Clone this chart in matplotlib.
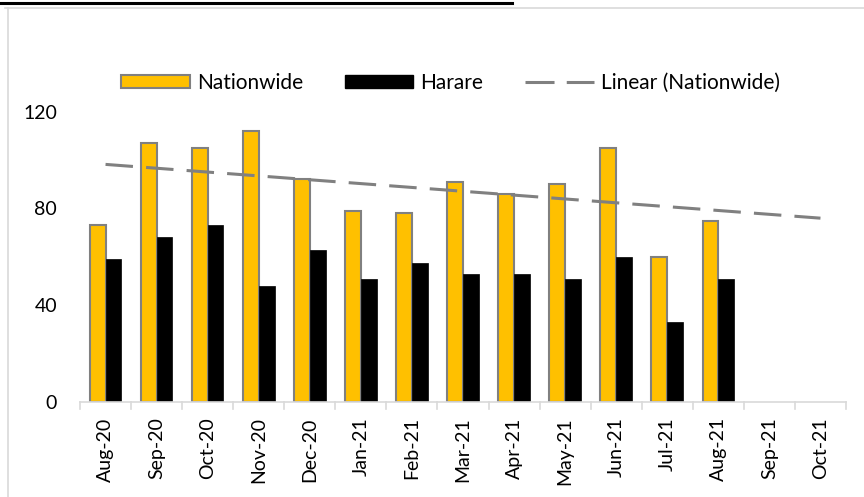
import numpy as np
import matplotlib
matplotlib.use("Agg")
import matplotlib.pyplot as plt
from matplotlib.lines import Line2D
from matplotlib.patches import Patch

plt.rcParams['font.family'] = ['Lato', 'DejaVu Sans']

months = ["Aug-20", "Sep-20", "Oct-20", "Nov-20", "Dec-20", "Jan-21", "Feb-21",
          "Mar-21", "Apr-21", "May-21", "Jun-21", "Jul-21", "Aug-21", "Sep-21", "Oct-21"]
nationwide = [73, 107, 105, 112, 92, 79, 78, 91, 86, 90, 105, 60, 75]
harare = [59, 68, 73, 48, 63, 51, 57.5, 53, 53, 51, 60, 33, 51]

fig = plt.figure(figsize=(8.64, 4.97), dpi=100)
ax = fig.add_axes([80/864, 1-402/497, (846-80)/864, (402-111.7)/497])

x_all = np.arange(len(months))
n = len(nationwide)
xd = np.arange(n)
w = 0.31
ax.bar(xd - w/2, nationwide, width=w, color="#FFC000", edgecolor="#808080",
       linewidth=1.5, zorder=2, label="Nationwide")
ax.bar(xd + w/2, harare, width=w, color="#000000", edgecolor="#000000",
       linewidth=0.5, zorder=2, label="Harare")

coef = np.polyfit(xd, nationwide, 1)
xt = np.array([0, len(months) - 1])
ax.plot(xt, np.polyval(coef, xt), color="#808080", linewidth=2.2,
        dashes=(9, 4.3), zorder=3, label="Linear (Nationwide)")

ax.set_xlim(-0.5, len(months) - 0.5)
ax.set_ylim(0, 120)
ax.set_yticks([0, 40, 80, 120])
ax.set_xticks(x_all)
ax.set_xticklabels(months, rotation=90, fontsize=14, color="#000000")
ax.tick_params(axis='x', length=0, pad=11)
ax.tick_params(axis='y', length=0, pad=16.5, labelsize=14, labelcolor="#000000")
for s in ["top", "right", "left"]:
    ax.spines[s].set_visible(False)
ax.spines["bottom"].set_color("#d9d9d9")
ax.spines["bottom"].set_linewidth(1.2)
# category boundary ticks
for b in np.arange(len(months) + 1) - 0.5:
    ax.plot([b, b], [0, -3], color="#d9d9d9", linewidth=1.2, clip_on=False, zorder=1)

handles = [Patch(facecolor="#FFC000", edgecolor="#808080", linewidth=1.5),
           Patch(facecolor="#000000", edgecolor="#000000"),
           Line2D([0], [0], color="#808080", linewidth=2.2, dashes=(9.5, 4))]
fig.legend(handles, ["Nationwide", "Harare", "Linear (Nationwide)"], loc="center left",
           bbox_to_anchor=(121/864, 1-83/497), ncol=3, frameon=False, fontsize=15,
           handlelength=3.3, handleheight=0.58, handletextpad=0.34, columnspacing=2.0,
           borderaxespad=0, borderpad=0)

# frame lines
fig.add_artist(Line2D([0, 512/864], [1-3/497, 1-3/497], color="black", linewidth=2.2,
                      transform=fig.transFigure))
fig.add_artist(Line2D([5/864, 1], [1-7.5/497, 1-7.5/497], color="#d9d9d9", linewidth=1.2,
                      transform=fig.transFigure))
fig.add_artist(Line2D([7.5/864, 7.5/864], [0, 1-7.5/497], color="#d9d9d9", linewidth=1.2,
                      transform=fig.transFigure))

fig.savefig("out.png", dpi=100)
